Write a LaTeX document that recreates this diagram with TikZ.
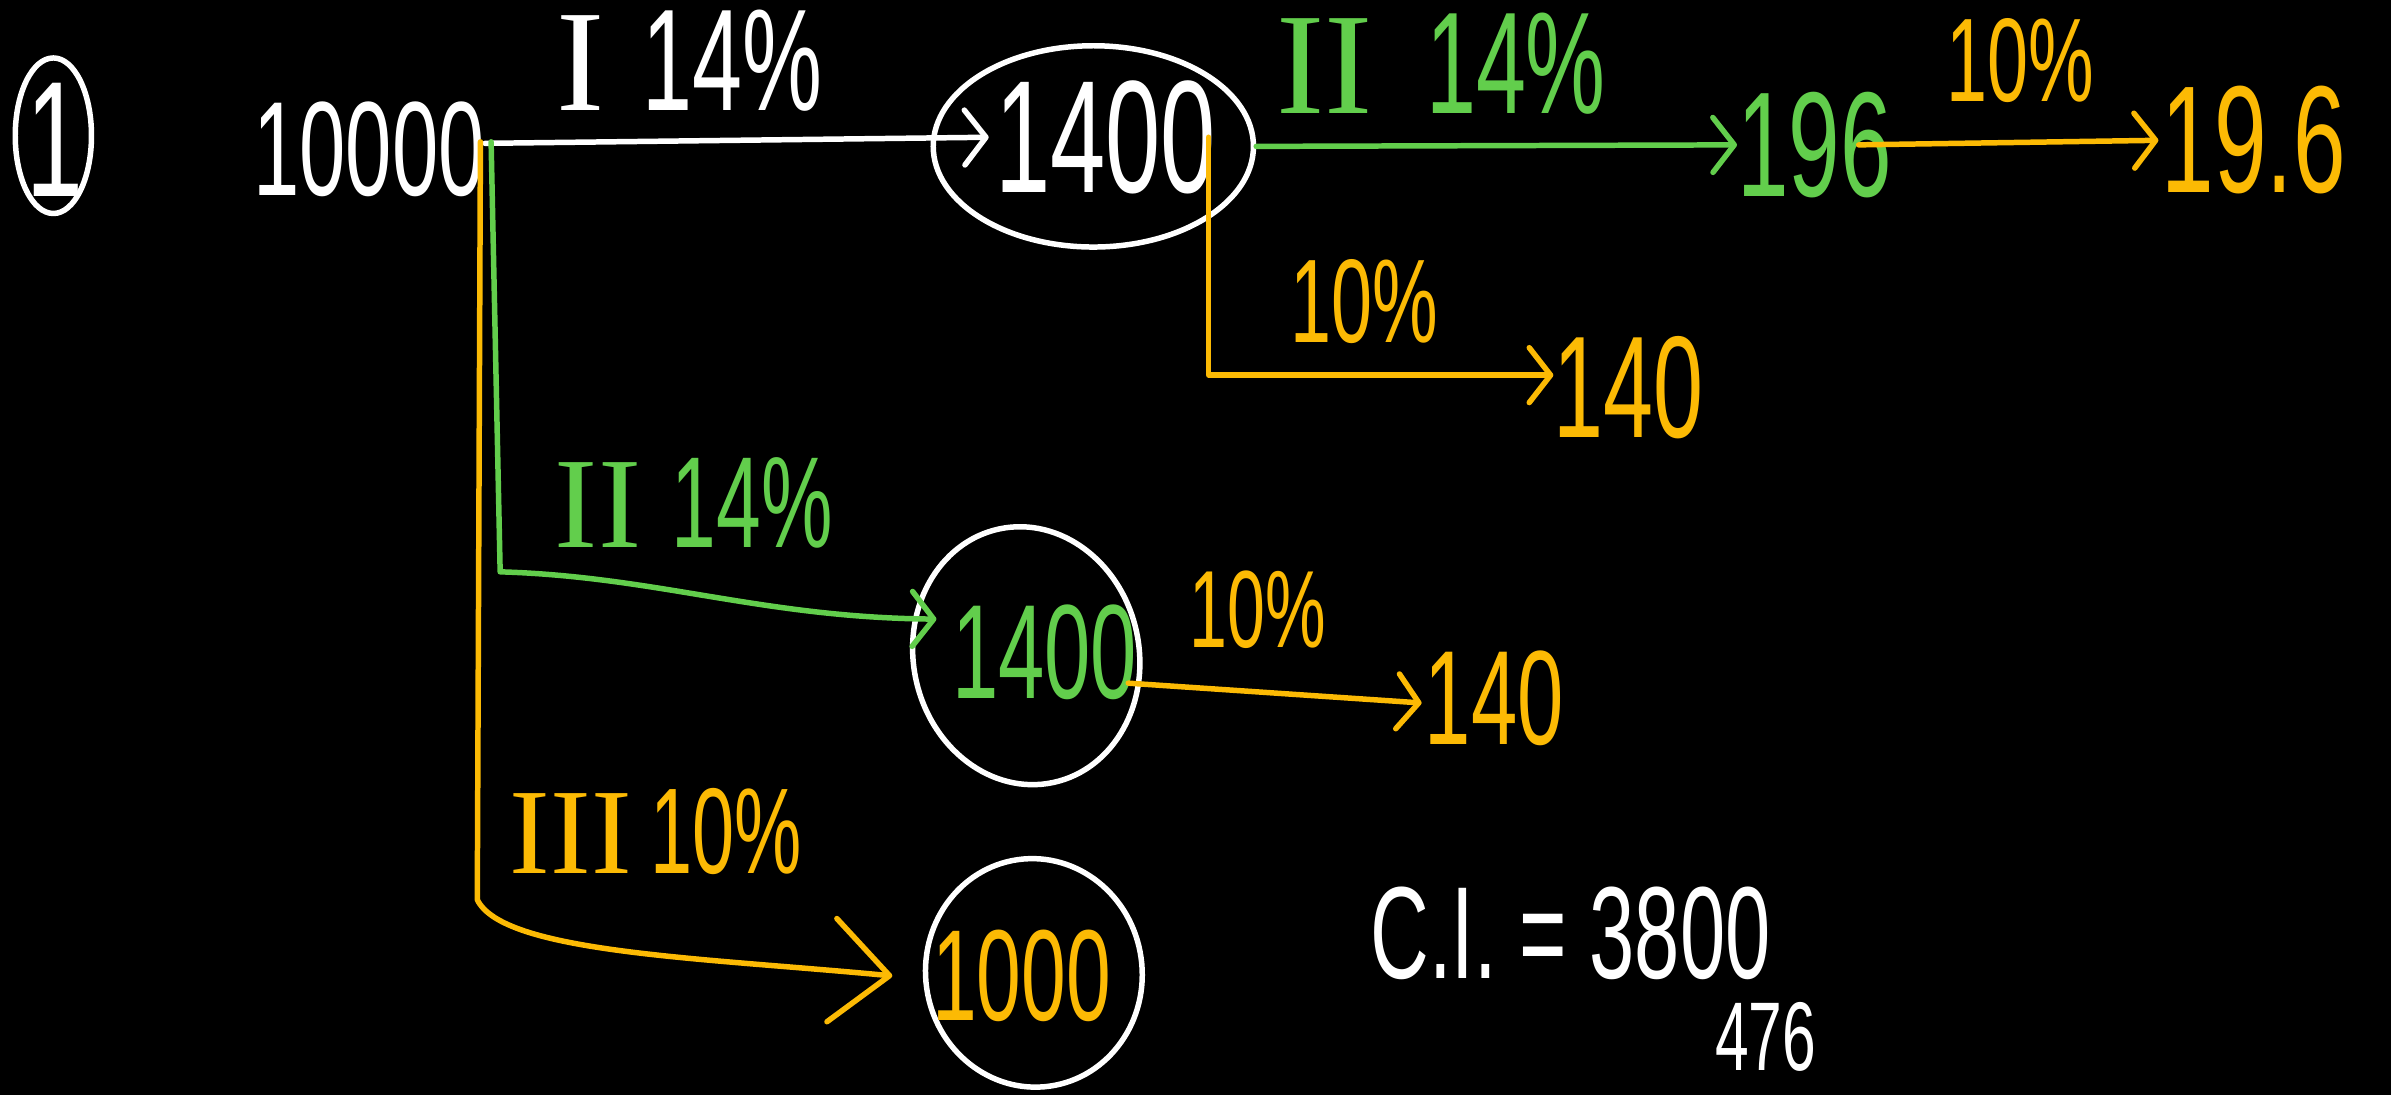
\documentclass[tikz,border=0pt]{standalone}
\usepackage{fontspec}
\setmainfont{Liberation Sans}[FakeStretch=0.62]
\newfontfamily\romanf{Liberation Serif}
\usetikzlibrary{arrows.meta,shapes.geometric}
\definecolor{hgreen}{RGB}{98,206,76}
\definecolor{horange}{RGB}{252,186,4}
\newcommand{\fsz}[1]{\fontsize{#1}{#1}\selectfont}
\begin{document}
\begin{tikzpicture}[x=1pt,y=-1pt,
  txt/.style={inner sep=0pt, anchor=center},
  ring/.style={draw=white, line width=3.6pt, ellipse, inner sep=0pt},
  conn/.style={line width=3.6pt, line cap=round, line join=round,
    -{Straight Barb[length=14pt,width=36pt,round]}},
  bigconn/.style={line width=3.6pt, line cap=round, line join=round,
    -{Straight Barb[length=38pt,width=68pt,round]}}]
\fill[black] (0,0) rectangle (1568,718);
\useasboundingbox (0,0) rectangle (1568,718);

% nodes
\node[ring, minimum width=50pt, minimum height=102pt] (n1) at (35,89) {};
\node[txt, white, font=\fsz{108}] (n1t) at (36,92) {1};
\node[txt, white, font=\fsz{88}] (a) at (242,98) {10000};
\node[ring, minimum width=210pt, minimum height=132pt] (bE) at (717,96) {};
\node[txt, white, font=\fsz{105}] (b) at (725,90) {1400};
\node[txt, hgreen, font=\fsz{98}] (c) at (1190,95) {196};
\node[txt, horange, font=\fsz{100}] (d) at (1478,92) {19.6};
\node[txt, horange, font=\fsz{95}] (e) at (1068,254) {140};
\node[ring, minimum width=148pt, minimum height=170pt, rotate=12] (fE) at (673,430) {};
\node[txt, hgreen, font=\fsz{88}] (f) at (685,428) {1400};
\node[txt, horange, font=\fsz{88}] (g) at (980,458) {140};
\node[ring, minimum width=142pt, minimum height=150pt, rotate=8] (hE) at (678,638) {};
\node[txt, horange, font=\fsz{85}] (h) at (670,640) {1000};
\node[txt, white, font=\fsz{86}] (ci) at (1030,612) {C.I. = 3800};
\node[txt, white, font=\fsz{64}] (ci2) at (1158,680) {476};

% labels
\node[txt, white, font=\fsz{95}] (l1) at (452,40) {{\romanf I}\hspace{25pt}14\%};
\node[txt, hgreen, font=\fsz{95}] (l2) at (945,42) {{\romanf II}\hspace{35pt}14\%};
\node[txt, horange, font=\fsz{78}] (l3) at (1325,40) {10\%};
\node[txt, horange, font=\fsz{78}] (l4) at (895,198) {10\%};
\node[txt, hgreen, font=\fsz{85}] (l5) at (455,330) {{\romanf II}\hspace{20pt}14\%};
\node[txt, horange, font=\fsz{72}] (l6) at (825,400) {10\%};
\node[txt, horange, font=\fsz{80}] (l7) at (430,545) {{\romanf III}\hspace{12pt}10\%};

% connectors
\coordinate (gk) at (328,375);
\coordinate (ok) at (313,590);
\draw[conn, white] ([yshift=4pt]a.east) -- ([xshift=-4pt]b.west);
\draw[conn, hgreen] (bE.east) -- (c.west);
\draw[conn, horange] ([xshift=-22pt]c.east) -- ([xshift=-2pt]d.west);
\draw[conn, horange] ([xshift=-5pt]b.east) |- ([yshift=8pt]e.west);
\draw[conn, hgreen] ([xshift=4pt,yshift=5pt]a.east) -- (gk)
  .. controls (430,378) and (500,405) .. ([xshift=-10pt,yshift=22pt]f.west);
\draw[conn, horange] ([xshift=-6pt,yshift=-20pt]f.east) -- ([xshift=-2pt,yshift=-3pt]g.west);
\draw[bigconn, horange] ([xshift=-3pt,yshift=5pt]a.east) -- (ok)
  .. controls (330,625) and (460,628) .. ([xshift=-26pt]h.west);
\end{tikzpicture}
\end{document}
